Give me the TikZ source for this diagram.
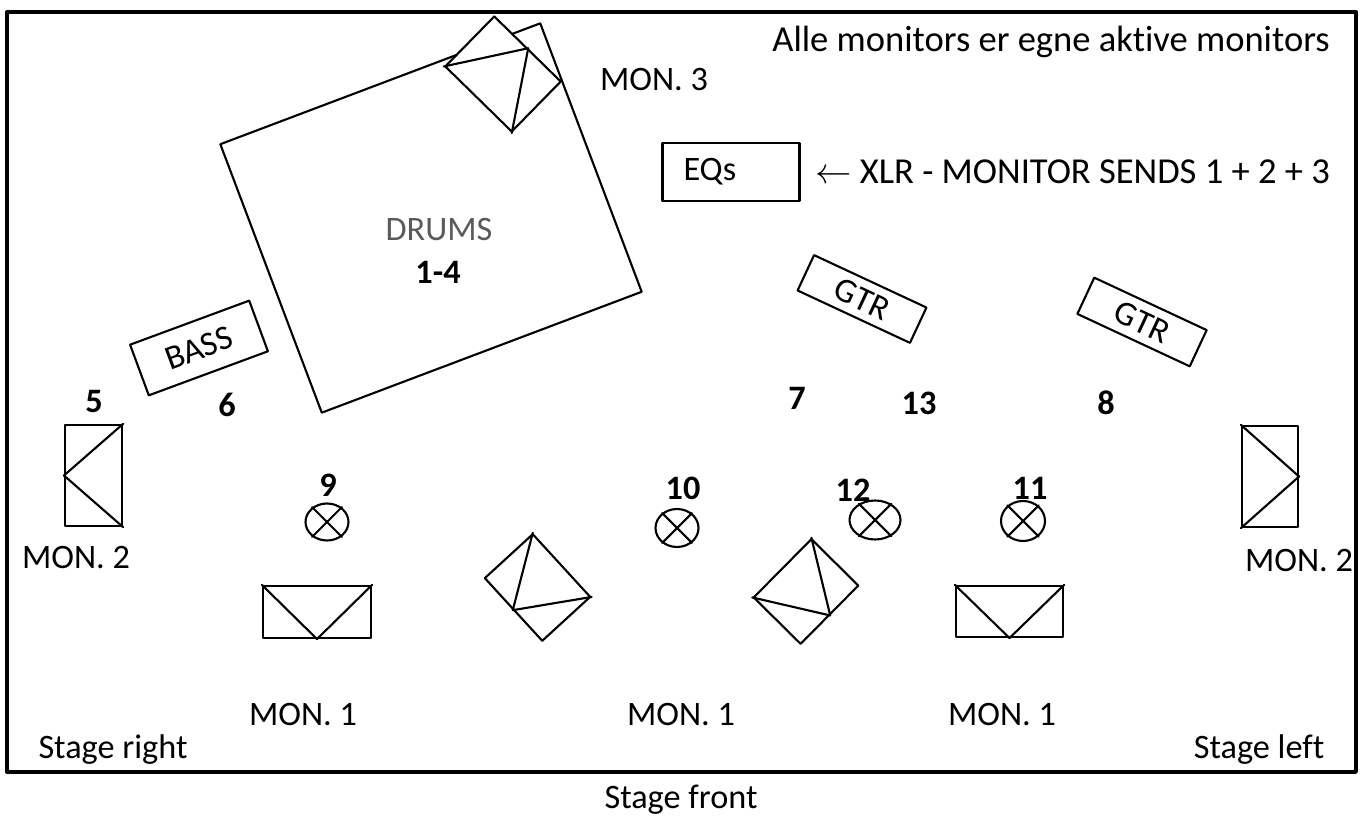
\documentclass[tikz,border=0pt]{standalone}
\usepackage{fontspec}
\setmainfont{Carlito}[Ligatures=NoCommon]
\usetikzlibrary{shapes.geometric}
\definecolor{drumgray}{RGB}{90,90,90}

\begin{document}
\begin{tikzpicture}[
	line cap=round,
	line join=round,
	line width=1.2pt,
	every node/.style={font=\fontsize{19.5}{23}\selectfont},
	box/.style={draw, rectangle, inner sep=0pt},
	monitor/.style={draw, rectangle, fill=white, inner sep=0pt},
	lamp/.style={draw, ellipse, inner sep=0pt},
	number/.style={font=\fontsize{19.5}{23}\selectfont\bfseries},
	note/.style={font=\fontsize{20.8}{24}\selectfont}
	]
	\useasboundingbox (0,0) rectangle (27.26,16.48);
	% stage
	\draw [line width=1.9pt] (0.14,1.04) rectangle (27.12,16.24);
	
	% drums and backline
	\node [box, minimum width=6.84cm, minimum height=5.74cm, rotate=20.7] (drums) at (8.62,12.12) {};
	\node [text=drumgray] (drumslabel) at (8.78,11.88) {DRUMS};
	\node [number] (drumsnr) at (8.76,11.04) {1-4};
	\node [box, minimum width=2.54cm, minimum height=1.08cm, rotate=20.3] (bass) at (3.98,9.52) {BASS};
	\node [box, minimum width=2.48cm, minimum height=0.78cm, rotate=-25] (gtrA) at (17.24,10.5) {GTR};
	\node [box, minimum width=2.48cm, minimum height=0.80cm, rotate=-25] (gtrB) at (22.84,10.04) {GTR};
	\node [box, minimum height=1.16cm, text width=1.9cm, inner xsep=0.42cm, align=left] (eqs) at (14.62,13.04) {EQs};
	\node [note] (sends) at (21.45,13.04) {$\leftarrow$ XLR - MONITOR SENDS 1 + 2 + 3};
	\node [note] (info) at (21.02,15.64) {Alle monitors er egne aktive monitors};
	
	% monitors
	\foreach \name/\x/\y/\w/\h/\a in {mon3/10.06/15.0/1.86/1.40/135.6,
		sideL/1.87/6.97/2.02/1.14/-90, sideR/25.4/6.95/2.02/1.12/90,
		floorA/6.34/4.24/2.16/1.04/0, wedgeA/10.75/4.73/1.70/1.30/-47.5,
		wedgeB/16.12/4.65/1.64/1.32/45.3, floorB/20.19/4.25/2.14/1.02/0}{
		\node [monitor, minimum width=\w cm, minimum height=\h cm, rotate=\a] (\name) at (\x,\y) {};
		\draw (\name.north west) -- (\name.south) -- (\name.north east);
	}
	\node (mon3label) at (13.08,14.88) {MON. 3};
	\foreach \name/\x/\y/\txt in {monL/1.52/5.32/MON. 2, monR/25.98/5.26/MON. 2,
		monA/6.06/2.18/MON. 1, monB/13.62/2.18/MON. 1, monC/20.04/2.18/MON. 1}{
		\node (\name) at (\x,\y) {\txt};
	}
	
	% lamps
	\foreach \nr/\x/\y/\w/\h in {9/6.54/6.04/0.86/0.74, 10/13.54/5.92/0.86/0.76,
		12/17.5/6.08/1.02/0.78, 11/20.46/6.06/0.88/0.80}{
		\node [lamp, minimum width=\w cm, minimum height=\h cm] (lamp\nr) at (\x,\y) {};
		\draw (lamp\nr.45) -- (lamp\nr.225) (lamp\nr.135) -- (lamp\nr.-45);
	}
	
	% channel numbers
	\foreach \nr/\x/\y in {5/1.88/8.44, 6/4.54/8.38, 7/15.94/8.52, 13/18.38/8.42,
		8/22.12/8.42, 9/6.56/6.78, 10/13.66/6.72, 12/17.06/6.68, 11/20.6/6.72}{
		\node [number] (nr\nr) at (\x,\y) {\nr};
	}
	
	% sides
	\node (stageright) at (2.26,1.48) {Stage right};
	\node (stageleft) at (25.18,1.48) {Stage left};
	\node (stagefront) at (13.62,0.48) {Stage front};
\end{tikzpicture}
\end{document}
